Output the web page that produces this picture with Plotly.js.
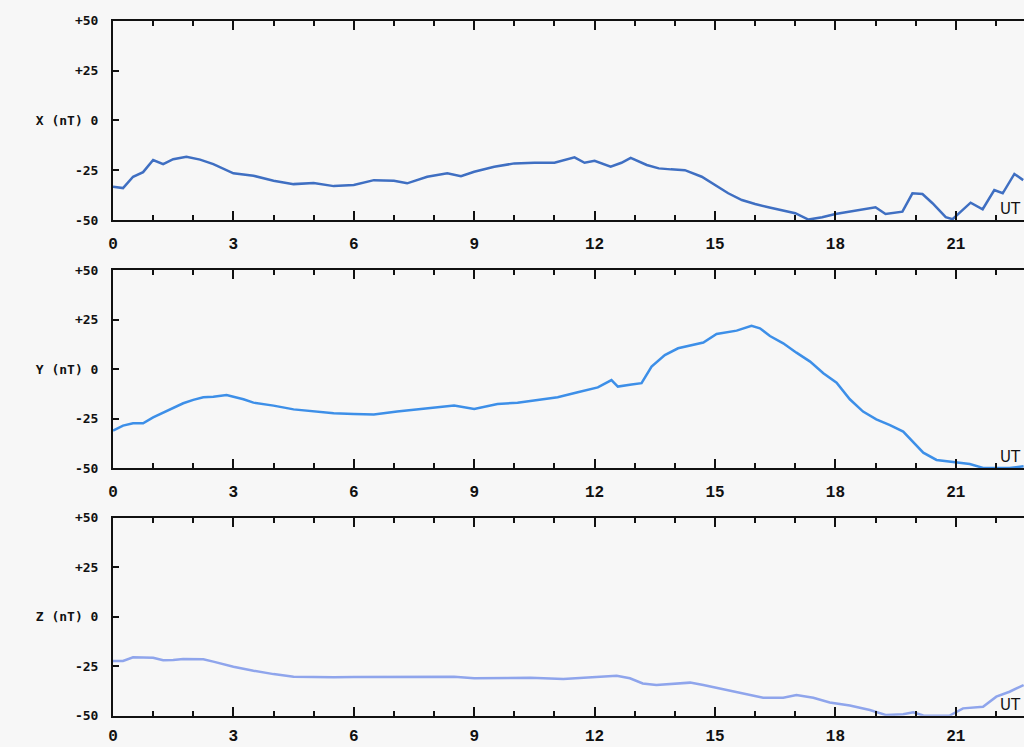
<!DOCTYPE html>
<html>
<head>
<meta charset="utf-8">
<script src="https://cdn.plot.ly/plotly-3.0.1.min.js"></script>
<style>html,body{margin:0;padding:0;background:#f7f7f7;}#chart{width:1024px;height:747px;}</style>
</head>
<body>
<div id="chart"></div>
<script>
// Hours (UT) and values (nT)
const xHours = [0,0.25,0.5,0.75,1.0,1.25,1.5,1.83,2.17,2.5,3.0,3.5,4.0,4.5,5.0,5.5,6.0,6.5,7.0,7.33,7.83,8.33,8.67,9.0,9.5,10.0,10.5,11.0,11.5,11.75,12.0,12.4,12.67,12.9,13.3,13.6,13.9,14.25,14.67,15.0,15.33,15.67,16.0,16.33,16.67,17.0,17.33,17.67,18.0,18.5,19.0,19.25,19.67,19.92,20.17,20.42,20.75,20.92,21.17,21.37,21.67,21.96,22.17,22.46,22.68];
const xValues = [-33.3,-34,-28.3,-26,-19.9,-22,-19.5,-18.3,-19.7,-22,-26.6,-27.8,-30.3,-32,-31.4,-33,-32.4,-30,-30.3,-31.6,-28.3,-26.6,-28,-25.8,-23.3,-21.6,-21.3,-21.3,-18.6,-21.3,-20.3,-23.3,-21.3,-18.8,-22.4,-24.1,-24.6,-25,-28.3,-32.4,-36.6,-40,-42,-43.6,-45,-46.6,-49.8,-48.6,-47,-45.3,-43.6,-47,-45.8,-36.6,-37,-41.6,-48.6,-49.6,-45,-41.3,-44.6,-35,-36.6,-26.9,-30];

const yHours = [0,0.25,0.5,0.75,1.0,1.25,1.5,1.75,2.0,2.25,2.5,2.83,3.0,3.25,3.5,4.0,4.5,5.0,5.5,6.0,6.5,7.08,7.58,8.08,8.5,9.0,9.58,10.08,10.58,11.08,11.58,12.08,12.42,12.58,12.92,13.17,13.42,13.75,14.08,14.38,14.71,15.04,15.54,15.91,16.12,16.37,16.7,17.03,17.37,17.7,18.03,18.36,18.69,19.02,19.36,19.69,19.94,20.19,20.52,21.02,21.35,21.68,22.01,22.34,22.69];
const yValues = [-31,-28.5,-27.3,-27.3,-24.3,-22,-19.6,-17.2,-15.5,-14.2,-13.9,-13,-13.9,-15.2,-16.9,-18.4,-20.3,-21.4,-22.3,-22.6,-22.9,-21.4,-20.3,-19.2,-18.4,-20.1,-17.6,-16.9,-15.5,-14.2,-11.7,-9.2,-5.5,-8.8,-7.8,-7.1,1.3,7.1,10.5,11.7,13.4,17.7,19.4,21.8,20.6,16.7,13,8.3,3.8,-2.1,-6.8,-15.2,-21.4,-25.3,-28.2,-31.5,-36.6,-42.1,-45.8,-47.1,-47.8,-49.8,-50,-49.9,-49];

const zHours = [0,0.25,0.5,0.75,1.0,1.25,1.5,1.75,2.0,2.25,2.5,2.75,3.0,3.5,4.0,4.5,5.0,5.5,6.0,7.09,8.5,9.0,9.74,10.4,11.22,11.88,12.55,12.88,13.2,13.54,14.03,14.38,14.71,15.2,15.7,16.2,16.7,17.03,17.45,17.86,18.36,18.86,19.27,19.69,19.94,20.19,20.6,20.85,21.18,21.68,22.01,22.34,22.69];
const zValues = [-22.4,-22.4,-20.5,-20.5,-20.7,-22,-21.9,-21.4,-21.4,-21.5,-22.7,-24.1,-25.3,-27.3,-29,-30.3,-30.5,-30.6,-30.5,-30.3,-30.3,-31.1,-31.1,-30.8,-31.5,-30.8,-29.8,-31.1,-33.7,-34.5,-33.7,-33.3,-34.5,-36.5,-38.7,-40.9,-40.9,-39.6,-40.9,-43.3,-44.9,-47.1,-49.7,-49.3,-48.3,-49.9,-50,-49.9,-46.3,-45.5,-40.4,-37.9,-34.5];

const xTickVals = [0,3,6,9,12,15,18,21];
const xTickText = ["0","3","6","9","12","15","18","21"];
const yTickVals = [-50,-25,0,25,50];
const yTickTextX = ["-50","-25","X (nT) 0","+25","+50"];
const yTickTextY = ["-50","-25","Y (nT) 0","+25","+50"];
const yTickTextZ = ["-50","-25","Z (nT) 0","+25","+50"];

const colors = ["#3f6fc2","#3d8fe8","#8fa5ec"];

const traces = [
  {x:xHours, y:xValues, xaxis:'x', yaxis:'y', mode:'lines', line:{color:colors[0], width:2.5}, hoverinfo:'skip'},
  {x:yHours, y:yValues, xaxis:'x2', yaxis:'y2', mode:'lines', line:{color:colors[1], width:2.5}, hoverinfo:'skip'},
  {x:zHours, y:zValues, xaxis:'x3', yaxis:'y3', mode:'lines', line:{color:colors[2], width:2.5}, hoverinfo:'skip'}
];

function xa(anchor, standoff){
  return {
    anchor: anchor, domain:[0,1], range:[0,22.7], showgrid:false, zeroline:false,
    showline:true, linecolor:'#111', linewidth:2, mirror:'ticks',
    ticks:'inside', ticklen:9, tickwidth:2, tickcolor:'#111',
    tickvals:xTickVals, ticktext:xTickText, ticklabelstandoff:standoff,
    minor:{dtick:1, tick0:0, ticks:'inside', ticklen:5, tickwidth:2, tickcolor:'#111', showgrid:false},
    tickfont:{family:'Liberation Mono, DejaVu Sans Mono, monospace', size:16, color:'#111', weight:'bold'},
    fixedrange:true
  };
}
function ya(anchor, dom, txt){
  return {
    anchor: anchor, domain:dom, range:[-50,50], showgrid:false, zeroline:false,
    showline:true, linecolor:'#111', linewidth:2, mirror:false,
    ticks:'inside', ticklen:6, tickwidth:2, tickcolor:'#111',
    tickvals:yTickVals, ticktext:txt, ticklabelstandoff:10,
    tickfont:{family:'DejaVu Sans Mono, monospace', size:13, color:'#111', weight:'bold'},
    fixedrange:true
  };
}

const utFont = {family:'DejaVu Sans, sans-serif', size:15, color:'#111'};
const layout = {
  width:1024, height:747,
  margin:{l:113, r:0, t:0, b:0},
  paper_bgcolor:'#f7f7f7', plot_bgcolor:'#f7f7f7',
  showlegend:false,
  xaxis: xa('y',8), yaxis: ya('x',[0.7055,0.9723],yTickTextX),
  xaxis2: xa('y2',8), yaxis2: ya('x2',[0.3731,0.6386],yTickTextY),
  xaxis3: xa('y3',4), yaxis3: ya('x3',[0.0419,0.3070],yTickTextZ),
  annotations: [
    {text:'UT', xref:'x', yref:'y', x:22.68, y:-44.5, xanchor:'right', yanchor:'middle', showarrow:false, font:utFont},
    {text:'UT', xref:'x2', yref:'y2', x:22.68, y:-44.5, xanchor:'right', yanchor:'middle', showarrow:false, font:utFont},
    {text:'UT', xref:'x3', yref:'y3', x:22.68, y:-44.5, xanchor:'right', yanchor:'middle', showarrow:false, font:utFont}
  ]
};

Plotly.newPlot('chart', traces, layout, {staticPlot:true, displayModeBar:false});
</script>
</body>
</html>
